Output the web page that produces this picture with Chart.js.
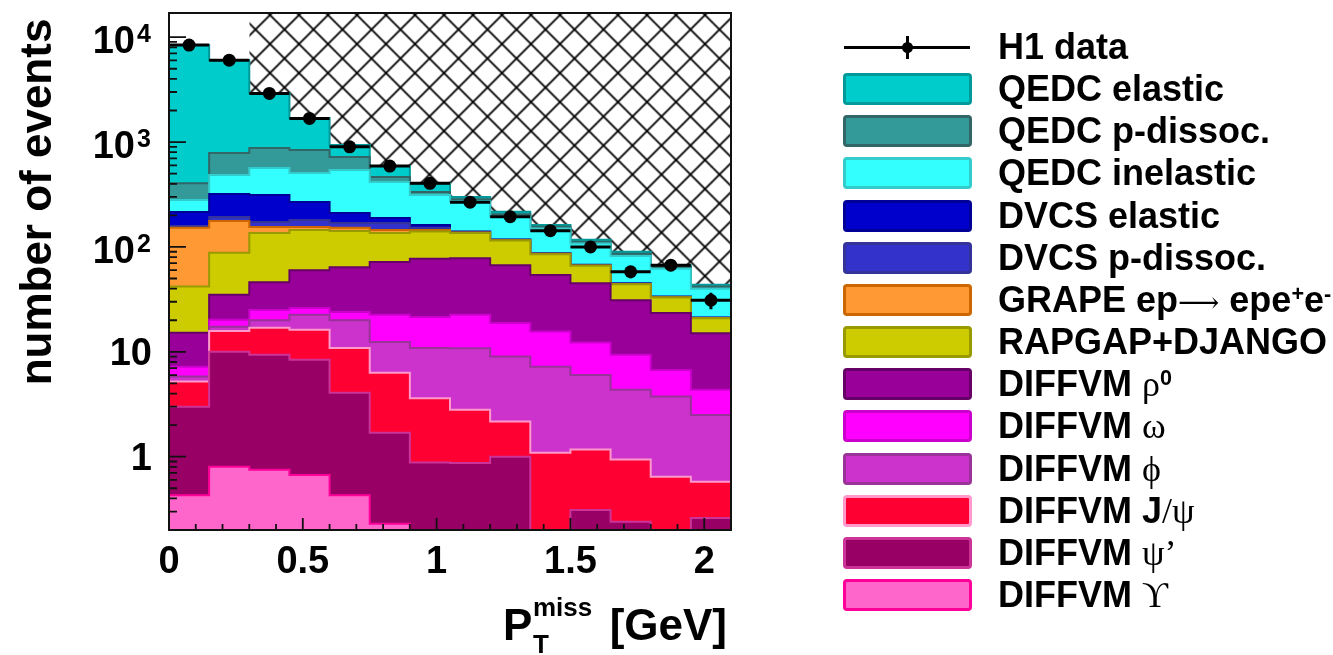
<!DOCTYPE html>
<html>
<head>
<meta charset="utf-8">
<script src="https://cdn.jsdelivr.net/npm/chart.js@4.4.0/dist/chart.umd.min.js"></script>
<style>
body { margin: 0; background: #fff; }
#wrap { position: relative; width: 1333px; height: 655px; overflow: hidden; }
canvas { position: absolute; left: 0; top: 0; }
.box { position: absolute; left: 843px; width: 129px; height: 32px; box-sizing: border-box; border: 3px solid; border-radius: 4px; }
.lab { position: absolute; left: 998px; font: bold 36px "Liberation Sans", Arial, sans-serif; line-height: 36px; white-space: nowrap; color: #000; }
.gr { font-family: "Liberation Serif", "Times New Roman", serif; font-weight: normal; }
.arr { font-family: "DejaVu Serif", serif; font-weight: normal; font-size: 0.8em; }
.lab sup { font-size: 0.6em; line-height: 0; vertical-align: 0.5em; }
</style>
</head>
<body>
<div id="wrap">
  <canvas id="chart" width="1333" height="655"></canvas>
  <div id="legend"></div>
</div>
<script>
// bins of P_T^miss (lower edges, GeV)
const binLow = [0, 0.15, 0.3, 0.45, 0.6, 0.75, 0.9, 1.05, 1.2, 1.35, 1.5, 1.65, 1.8, 1.95];
const binWidth = 0.15;
const vetoFrom = 0.3; // hatched region starts here

const h1Data = [8400, 6040, 2910, 1680, 900, 590, 404, 267, 194, 143, 100, 58, 67, 31];
const h1Err  = [92, 78, 54, 41, 30, 24, 20, 16, 14, 12, 10, 7.6, 8.2, 5.6];

// MC contributions per bin (events)
const qedcEl   = [7995, 5255, 2053, 854, 217, 127, 66, 15, 12, 6, 5, 4, 2.5, 1.5];
const qedcPd   = [125, 300, 312, 332, 178, 48, 21, 13, 10, 6, 4, 4, 2.5, 2];
const qedcInel = [65, 165, 252, 239, 330, 227, 151, 132, 77, 63, 40.5, 37, 28.4, 18.8];
const dvcsEl   = [57, 127, 140, 87, 42, 20, 10, 2, 1, 0.5, 0.5, 0.4, 0.2, 0.1];
const dvcsPd   = [6, 16, 18, 26, 17, 24, 7, 1, 1, 0.5, 0.5, 0.3, 0.2, 0.1];
const grape    = [110, 89, 19, 10, 10, 9, 5, 1, 1, 1, 0.5, 0.3, 0.2, 0.1];
const rapgap   = [26.8, 53, 90, 85, 78, 64, 63, 58, 48, 31, 21, 13, 9.6, 5.9];
const rho0     = [8.0, 14.8, 21, 33.8, 40, 49.5, 55.5, 55.5, 48.2, 38.4, 32.7, 21.6, 16.7, 10.65];
const omega    = [1.4, 2.9, 5.0, 3.7, 4.0, 10.1, 10.6, 11.7, 9.8, 8.4, 6.3, 5.05, 2.95, 1.85];
const phi      = [0.6, 1.5, 3.0, 6.3, 9.1, 6.1, 7.3, 8.0, 6.83, 6.11, 4.83, 3.41, 3.1, 1.92];
const jpsi     = [2.2, 5.8, 7.6, 7.8, 6.83, 4.61, 2.72, 1.93, 1.17, 0.99, 0.86, 0.70, 0.445, 0.318];
const psi2s    = [2.57, 9.2, 8.65, 7.73, 3.64, 1.46, 0.88, 0.87, 1.0, 0.1, 0.31, 0.24, 0.2, 0.26];
const upsilon  = [0.43, 0.8, 0.75, 0.67, 0.43, 0.23, 0, 0, 0, 0, 0, 0, 0, 0];

const yMin = 0.2, yMax = 17000;
const xTickLabels = ['0', '0.5', '1', '1.5', '2'];

// stack, bottom to top: [values, fill, outline, legend html]
const stack = [
  [upsilon,  '#FF66CC', '#FF0099', 'DIFFVM <span class="gr">&#978;</span>'],
  [psi2s,    '#990066', '#CC3399', 'DIFFVM <span class="gr">&#968;&#8217;</span>'],
  [jpsi,     '#FF0033', '#FF99CC', 'DIFFVM J<span class="gr">/&#968;</span>'],
  [phi,      '#CC33CC', '#993399', 'DIFFVM <span class="gr">&#981;</span>'],
  [omega,    '#FF00FF', '#CC00CC', 'DIFFVM <span class="gr">&#969;</span>'],
  [rho0,     '#990099', '#660066', 'DIFFVM <span class="gr">&#961;</span><sup>0</sup>'],
  [rapgap,   '#CCCC00', '#999900', 'RAPGAP+DJANGO'],
  [grape,    '#FF9933', '#CC6600', 'GRAPE ep<span class="arr">&#10230;</span> epe<sup>+</sup>e<sup>-</sup>'],
  [dvcsPd,   '#3333CC', '#333399', 'DVCS p-dissoc.'],
  [dvcsEl,   '#0000CC', '#000099', 'DVCS elastic'],
  [qedcInel, '#33FFFF', '#33CCCC', 'QEDC inelastic'],
  [qedcPd,   '#339999', '#336666', 'QEDC p-dissoc.'],
  [qedcEl,   '#00CCCC', '#009999', 'QEDC elastic']
];

const FLOOR = 1e-4; // log axis cannot hold 0

function histPoints(values) {
  const pts = binLow.map((x, i) => ({ x: x, y: Math.max(values[i], FLOOR) }));
  pts.push({ x: binLow[binLow.length - 1] + binWidth, y: Math.max(values[values.length - 1], FLOOR) });
  return pts;
}

function hatchPattern() {
  const c = document.createElement('canvas');
  c.width = 29; c.height = 29;
  const g = c.getContext('2d');
  g.strokeStyle = '#000';
  g.lineWidth = 1.8;
  g.beginPath();
  g.moveTo(-2, -2); g.lineTo(31, 31);
  g.moveTo(-2, 31); g.lineTo(31, -2);
  g.stroke();
  const p = g.createPattern(c, 'repeat');
  p.setTransform(new DOMMatrix().translate(-5.5, 0.5));
  return p;
}

const datasets = stack.map((s, i) => ({
  label: 'mc' + i,
  data: histPoints(s[0]),
  backgroundColor: s[1],
  borderColor: s[2],
  borderWidth: 2,
  fill: i === 0 ? 'start' : '-1',
  stepped: 'before',
  pointRadius: 0,
  order: 0
}));

datasets.push({
  label: 'veto',
  data: [{ x: vetoFrom, y: yMax * 10 }, { x: binLow[binLow.length - 1] + binWidth, y: yMax * 10 }],
  stack: 'veto',
  backgroundColor: hatchPattern(),
  borderWidth: 0,
  fill: 'start',
  stepped: 'before',
  pointRadius: 0,
  order: 1
});

datasets.push({
  label: 'H1 data',
  data: binLow.map((x, i) => ({ x: x + binWidth / 2, y: h1Data[i] })),
  stack: 'data',
  showLine: false,
  fill: false,
  pointRadius: 6.5,
  pointBackgroundColor: '#000',
  pointBorderWidth: 0,
  order: -1
});

const FONT = '"Liberation Sans", Arial, sans-serif';

const rootAxes = {
  id: 'rootAxes',
  afterDatasetsDraw(chart) {
    const { ctx, scales: { x, y } } = chart;
    ctx.save();
    ctx.strokeStyle = '#000';
    ctx.lineWidth = 3;
    binLow.forEach((lo, i) => {
      const yy = y.getPixelForValue(h1Data[i]);
      const xc = x.getPixelForValue(lo + binWidth / 2);
      ctx.beginPath();
      ctx.moveTo(x.getPixelForValue(lo), yy);
      ctx.lineTo(x.getPixelForValue(lo + binWidth), yy);
      ctx.moveTo(xc, y.getPixelForValue(h1Data[i] - h1Err[i]));
      ctx.lineTo(xc, y.getPixelForValue(h1Data[i] + h1Err[i]));
      ctx.stroke();
    });
    ctx.restore();
  },
  afterDraw(chart) {
    const { ctx, chartArea: a, scales: { x, y } } = chart;
    ctx.save();
    ctx.strokeStyle = '#111';
    ctx.lineWidth = 2;
    ctx.strokeRect(a.left, a.top, a.right - a.left, a.bottom - a.top);

    // y ticks (inside, from the left)
    ctx.lineWidth = 1.8;
    ctx.beginPath();
    for (let e = -1; e <= 4; e++) {
      for (let k = 1; k <= 9; k++) {
        const v = k * Math.pow(10, e);
        if (v < yMin || v > yMax) continue;
        const py = y.getPixelForValue(v);
        ctx.moveTo(a.left, py);
        ctx.lineTo(a.left + (k === 1 ? 17 : 8), py);
      }
    }
    // x ticks (inside, from the bottom)
    for (let i = 0; i <= 21; i++) {
      const px = x.getPixelForValue(i / 10);
      ctx.moveTo(px, a.bottom);
      ctx.lineTo(px, a.bottom - (i % 5 === 0 ? 12 : 6));
    }
    ctx.stroke();

    ctx.fillStyle = '#000';
    // x tick labels
    ctx.font = 'bold 38px ' + FONT;
    ctx.textAlign = 'center';
    ctx.textBaseline = 'alphabetic';
    xTickLabels.forEach(t => {
      ctx.fillText(t, x.getPixelForValue(parseFloat(t)), 573);
    });

    // y tick labels
    for (let e = 0; e <= 4; e++) {
      const py = y.getPixelForValue(Math.pow(10, e));
      if (e <= 1) {
        ctx.font = 'bold 38px ' + FONT;
        ctx.textAlign = 'right';
        ctx.fillText(e === 0 ? '1' : '10', 152, py + 13);
      } else {
        ctx.font = 'bold 38px ' + FONT;
        ctx.textAlign = 'right';
        ctx.fillText('10', 135, py + 16);
        ctx.font = 'bold 25px ' + FONT;
        ctx.textAlign = 'left';
        ctx.fillText(String(e), 137, py + 5);
      }
    }

    // x title
    ctx.font = 'bold 44px ' + FONT;
    ctx.textAlign = 'left';
    ctx.fillText('P', 503, 640);
    ctx.font = 'bold 26px ' + FONT;
    ctx.fillText('miss', 533, 616);
    ctx.fillText('T', 533, 653);
    ctx.font = 'bold 44px ' + FONT;
    ctx.textAlign = 'right';
    ctx.fillText('[GeV]', 727, 640);

    // y title
    ctx.translate(51, 202);
    ctx.rotate(-Math.PI / 2);
    ctx.textAlign = 'center';
    ctx.font = 'bold 44px ' + FONT;
    ctx.fillText('number of events', 0, 0);
    ctx.restore();
  }
};

new Chart(document.getElementById('chart'), {
  type: 'line',
  data: { datasets: datasets },
  options: {
    responsive: false,
    animation: false,
    events: [],
    layout: { padding: { left: 169, top: 13, right: 602, bottom: 125 } },
    plugins: { legend: { display: false }, tooltip: { enabled: false }, filler: { propagate: false } },
    scales: {
      x: { type: 'linear', min: 0, max: 2.1, display: false },
      y: { type: 'logarithmic', min: yMin, max: yMax, stacked: true, display: false }
    }
  },
  plugins: [rootAxes]
});

// legend, top to bottom
const legend = document.getElementById('legend');
const rowTop = 47, rowStep = 42.15;
let html = '';
html += '<div style="position:absolute;left:844px;top:' + (rowTop - 1.5) + 'px;width:126px;height:3px;background:#000"></div>';
html += '<div style="position:absolute;left:906px;top:' + (rowTop - 11) + 'px;width:3px;height:23px;background:#000"></div>';
html += '<div style="position:absolute;left:902px;top:' + (rowTop - 5.5) + 'px;width:11px;height:11px;border-radius:50%;background:#000"></div>';
html += '<div class="lab" style="top:' + (rowTop - 18) + 'px">H1 data</div>';
stack.slice().reverse().forEach((s, i) => {
  const c = rowTop + (i + 1) * rowStep;
  html += '<div class="box" style="top:' + (c - 16) + 'px;background:' + s[1] + ';border-color:' + s[2] + '"></div>';
  html += '<div class="lab" style="top:' + (c - 18) + 'px">' + s[3] + '</div>';
});
legend.innerHTML = html;
</script>
</body>
</html>
